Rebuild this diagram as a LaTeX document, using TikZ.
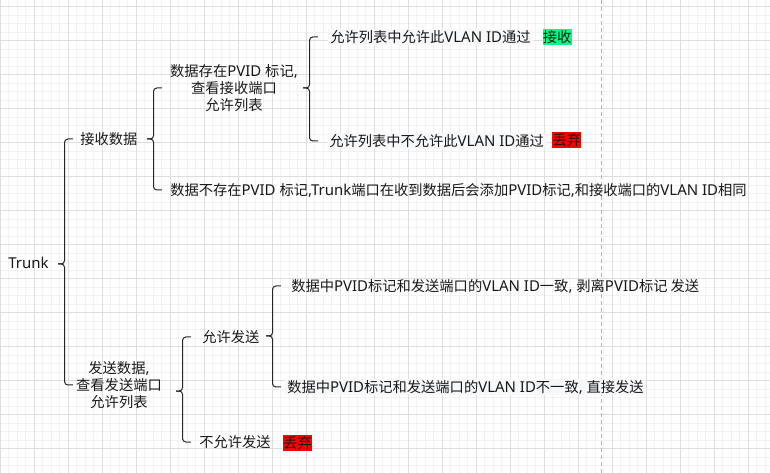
\documentclass[tikz,border=0pt]{standalone}
\usepackage{fontspec}
\setmainfont{Noto Sans}
\newfontfamily\latinfont[Scale=1.05]{Noto Sans}
\newfontfamily\cjkfont{Noto Sans CJK SC}
\usetikzlibrary{calc}
\definecolor{passgreen}{RGB}{0,255,128}
\definecolor{dropred}{RGB}{255,0,0}
\definecolor{tintbg}{RGB}{247,248,250}
\definecolor{minorline}{RGB}{242,242,242}
\definecolor{majorline}{RGB}{222,222,222}
\definecolor{guideline}{RGB}{180,180,180}
\XeTeXinterchartokenstate=1
\newXeTeXintercharclass\cjkclass
\newcount\cjkcode
\cjkcode="4E00
\loop
  \XeTeXcharclass\cjkcode=\cjkclass
  \advance\cjkcode by 1
\ifnum\cjkcode<"A000 \repeat
\XeTeXinterchartoks 0 \cjkclass = {\cjkfont}
\XeTeXinterchartoks 4095 \cjkclass = {\cjkfont}
\XeTeXinterchartoks \cjkclass 0 = {\latinfont}
\XeTeXinterchartoks 4095 0 = {\latinfont}

\begin{document}
\begin{tikzpicture}[
      x=0.75pt, y=-0.75pt,
      every node/.style={font=\fontsize{10.7pt}{12.75pt}\selectfont, text=black!90},
      lbl/.style={anchor=west, inner sep=0pt, text height=8.1pt, text depth=0pt},
      multi/.style={align=center, inner sep=0pt},
      tint/.style={lbl, fill=tintbg, inner xsep=1.5pt, inner ysep=2.3pt},
      tag/.style={inner sep=0pt, minimum width=21.9pt, minimum height=12pt, text height=8.1pt, text depth=0pt},
      brace/.style={draw=black!85, line width=0.75pt, rounded corners=2.5pt,
        to path={let \p1=(\tikztostart), \p2=(\tikztotarget) in
          -- (\x1+4.9pt, \y1) -- (\x1+4.9pt, \y2) -- (\x1+11.2pt, \y2)}},
      minorgrid/.style={draw=minorline, line width=0.75pt},
      majorgrid/.style={draw=majorline, line width=0.75pt},
      guide/.style={draw=guideline, line width=0.75pt, dash pattern=on 3pt off 2.25pt},
    ]
      \fill[white] (0, 0) rectangle (770, 473);
      \useasboundingbox (0, 0) rectangle (770, 473);
      \foreach \i in {0,...,90}
        \draw[minorgrid] (\i*8.5, 0) -- (\i*8.5, 473);
      \foreach \j in {0,...,56}
        \draw[minorgrid] (0, \j*8.5-1.8) -- (770, \j*8.5-1.8);
      \foreach \i in {0,...,22}
        \draw[majorgrid] (\i*34, 0) -- (\i*34, 473);
      \foreach \j in {0,...,13}
        \draw[majorgrid] (0, \j*34+6.7) -- (770, \j*34+6.7);
      \draw[guide] (601.5, 0) -- (601.5, 473);
      \node[lbl] (1) at (8, 263) {Trunk};
      \node[lbl] (2) at (80, 139) {接收数据};
      \node[multi] (3) at (234, 88) {数据存在PVID 标记,\\查看接收端口\\允许列表};
      \node[lbl] (4) at (170, 190) {数据不存在PVID 标记,Trunk端口在收到数据后会添加PVID标记,和接收端口的VLAN ID相同};
      \node[multi] (5) at (119, 385) {发送数据,\\查看发送端口\\允许列表};
      \node[tint] (6) at (328, 37) {允许列表中允许此VLAN ID通过};
      \node[tag, fill=passgreen] (7) at (557.2, 37) {接收};
      \node[tint] (8) at (327, 141) {允许列表中不允许此VLAN ID通过};
      \node[tag, fill=dropred] (9) at (566.8, 140.5) {丢弃};
      \node[lbl] (10) at (202, 337) {允许发送};
      \node[lbl] (11) at (199, 442) {不允许发送};
      \node[tag, fill=dropred] (12) at (297.5, 443.3) {丢弃};
      \node[lbl] (13) at (291, 286) {数据中PVID标记和发送端口的VLAN ID一致, 剥离PVID标记 发送};
      \node[tint] (14) at (285, 387) {数据中PVID标记和发送端口的VLAN ID不一致, 直接发送};
      \coordinate (t1) at (58, 264);
      \coordinate (t2) at (147, 139);
      \coordinate (t3) at (303, 88);
      \coordinate (t4) at (266, 336);
      \coordinate (t5) at (176, 391);
      \draw[brace] (t1) to (2);
      \draw[brace] (t1) to (5);
      \draw[brace] (t2) to (3);
      \draw[brace] (t2) to (4);
      \draw[brace] (t3) to (6);
      \draw[brace] (t3) to (8);
      \draw[brace] (t4) to (13);
      \draw[brace] (t4) to (14);
      \draw[brace] (t5) to (10);
      \draw[brace] (t5) to (11);
    \end{tikzpicture}
\end{document}
